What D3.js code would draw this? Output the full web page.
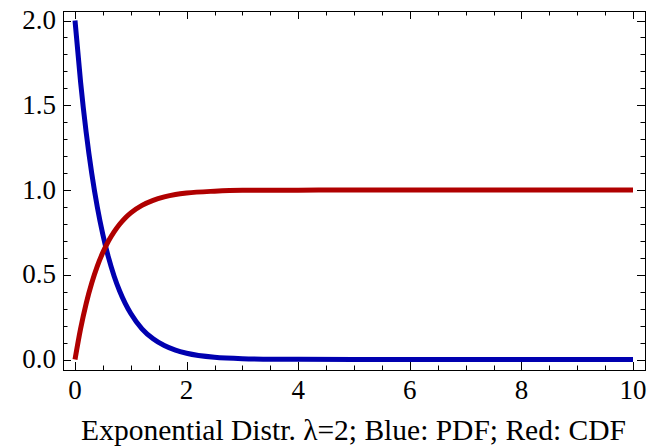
<!DOCTYPE html>
<html>
  <head>
    <meta charset="utf-8">
    <script src="https://cdn.jsdelivr.net/npm/d3@7/dist/d3.min.js"></script>
  </head>
  <body style="margin:0">
    <svg width="653" height="446" style="font-family: 'Liberation Serif', 'Times New Roman', serif"></svg>
    <script>
      // valores
      const xs  = [0, 0.1, 0.2, 0.3, 0.4, 0.5, 0.6, 0.7, 0.8, 0.9, 1.0, 1.2, 1.4, 1.6, 1.8, 2.0, 2.5, 3, 4, 5, 6, 7, 8, 9, 10];
      const pdf = [2.0, 1.637, 1.341, 1.098, 0.899, 0.736, 0.602, 0.493, 0.404, 0.331, 0.271, 0.181, 0.122, 0.082, 0.055, 0.037, 0.013, 0.005, 0.001, 0, 0, 0, 0, 0, 0];
      const cdf = [0, 0.181, 0.330, 0.451, 0.551, 0.632, 0.699, 0.753, 0.798, 0.835, 0.865, 0.909, 0.939, 0.959, 0.973, 0.982, 0.993, 0.998, 0.999, 1, 1, 1, 1, 1, 1];
      const xTicks = [0, 2, 4, 6, 8, 10];
      const yTicks = [0, 0.5, 1.0, 1.5, 2.0];
      const title = 'Exponential Distr. λ=2; Blue: PDF; Red: CDF';

      const svg = d3.select('svg');
      const fLeft = 63, fRight = 645, fTop = 11, fBottom = 370;

      const x = d3.scaleLinear().domain([0, 10]).range([75, 633]);
      const y = d3.scaleLinear().domain([0, 2]).range([359.5, 20.5]);

      const minorX = d3.range(0, 10.01, 0.5).filter(v => v % 2 !== 0);
      const minorY = d3.range(0, 2.001, 0.1).map(v => +v.toFixed(1)).filter(v => Math.abs(v * 2 - Math.round(v * 2)) > 1e-6);

      // ticks hacia dentro en los cuatro lados
      const tk = (x1, y1, x2, y2) => svg.append('line')
        .attr('x1', x1).attr('y1', y1).attr('x2', x2).attr('y2', y2)
        .attr('stroke', '#000').attr('stroke-width', 1);

      xTicks.forEach(v => { const px = Math.round(x(v)) + 0.5; tk(px, fBottom, px, fBottom - 8); tk(px, fTop, px, fTop + 8); });
      minorX.forEach(v => { const px = Math.round(x(v)) + 0.5; tk(px, fBottom, px, fBottom - 4.5); tk(px, fTop, px, fTop + 4.5); });
      yTicks.forEach(v => { const py = Math.round(y(v)) + 0.5; tk(fLeft, py, fLeft + 8, py); tk(fRight, py, fRight - 8, py); });
      minorY.forEach(v => { const py = Math.round(y(v)) + 0.5; tk(fLeft, py, fLeft + 4.5, py); tk(fRight, py, fRight - 4.5, py); });

      svg.append('rect')
        .attr('x', fLeft + 0.5).attr('y', fTop + 0.5)
        .attr('width', fRight - fLeft).attr('height', fBottom - fTop)
        .attr('fill', 'none').attr('stroke', '#000').attr('stroke-width', 1);

      // etiquetas
      xTicks.forEach(d => {
        svg.append('text')
          .attr('x', x(d)).attr('y', 399)
          .attr('text-anchor', 'middle').attr('font-size', 27)
          .style('font-family', '"Liberation Serif"')
          .text(d);
      });
      yTicks.forEach(d => {
        svg.append('text')
          .attr('x', 56).attr('y', y(d) + 8.5)
          .attr('text-anchor', 'end').attr('font-size', 27)
          .style('font-family', '"Liberation Serif"')
          .text(d.toFixed(1));
      });

      svg.append('text')
        .attr('x', 353.5).attr('y', 440)
        .attr('text-anchor', 'middle').attr('font-size', 29.5)
        .style('font-family', '"Liberation Serif"')
        .text(title);

      // curvas
      const line = d3.line().x(d => x(d[0])).y(d => y(d[1])).curve(d3.curveMonotoneX);
      svg.append('path')
        .datum(xs.map((v, i) => [v, pdf[i]]))
        .attr('d', line).attr('fill', 'none')
        .attr('stroke', '#0000b0').attr('stroke-width', 5);
      svg.append('path')
        .datum(xs.map((v, i) => [v, cdf[i]]))
        .attr('d', line).attr('fill', 'none')
        .attr('stroke', '#b00000').attr('stroke-width', 5);
    </script>
  </body>
</html>
